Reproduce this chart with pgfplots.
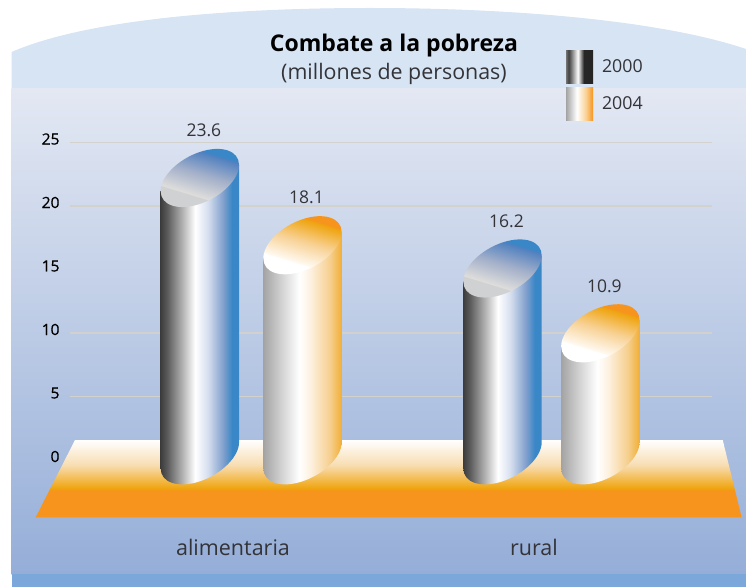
\documentclass[border=0pt]{standalone}
\usepackage{fontspec}
\setmainfont{Open Sans}
\newfontfamily\tickf[FakeBold=0.6]{Open Sans}
\usepackage{pgfplots}
\pgfplotsset{compat=1.18}
\definecolor{domeC}{HTML}{D6E4F3}
\definecolor{bgTop}{HTML}{E3E8F3}
\definecolor{bgBot}{HTML}{95AED8}
\definecolor{strip}{HTML}{7BA7DA}
\definecolor{gridC}{HTML}{D3D1CB}
\definecolor{txt}{HTML}{333338}
\definecolor{blueS}{HTML}{3A87C8}
\definecolor{orgS}{HTML}{F7941D}
\pgfdeclarehorizontalshading{cylA}{100bp}{color(0bp)=(black!76);color(25bp)=(black!76);color(29bp)=(black!65);color(40bp)=(black!26);color(47bp)=(white);
 rgb(55bp)=(0.843,0.875,0.937);rgb(65bp)=(0.5,0.624,0.8);color(70.5bp)=(blueS);color(100bp)=(blueS)}
\pgfdeclarehorizontalshading{cylB}{100bp}{rgb(0bp)=(0.64,0.64,0.64);rgb(25bp)=(0.64,0.64,0.64);rgb(37.5bp)=(0.84,0.84,0.84);color(48bp)=(white);
 rgb(55bp)=(0.992,0.945,0.878);rgb(67.5bp)=(0.965,0.812,0.557);rgb(75bp)=(0.945,0.682,0.208);rgb(100bp)=(0.945,0.682,0.208)}
\pgfdeclareverticalshading{topA}{100bp}{rgb(0bp)=(0.816,0.82,0.827);rgb(40.5bp)=(0.816,0.82,0.827);rgb(40.7bp)=(0.875,0.87,0.86);rgb(52bp)=(0.64,0.69,0.79);rgb(63bp)=(0.31,0.50,0.75);color(63.25bp)=(blueS);color(100bp)=(blueS)}
\pgfdeclareverticalshading{topB}{100bp}{color(0bp)=(white);color(40.5bp)=(white);rgb(40.7bp)=(1,0.98,0.95);rgb(52bp)=(0.97,0.82,0.58);rgb(63bp)=(0.937,0.64,0.05);color(63.25bp)=(orgS);color(100bp)=(orgS)}
\pgfdeclareverticalshading{floorS}{100bp}{color(0bp)=(orgS);color(42.5bp)=(orgS);rgb(43bp)=(0.937,0.635,0.024);rgb(58.8bp)=(0.973,0.867,0.698);color(75bp)=(white);color(100bp)=(white)}
\pgfdeclarehorizontalshading{legA}{100bp}{rgb(0bp)=(0.45,0.45,0.45);rgb(25bp)=(0.45,0.45,0.45);rgb(30bp)=(0.25,0.25,0.25);color(47bp)=(white);rgb(58bp)=(0.15,0.15,0.15);rgb(100bp)=(0.13,0.13,0.13)}
\pgfdeclarehorizontalshading{legB}{100bp}{rgb(0bp)=(0.64,0.64,0.64);rgb(25bp)=(0.64,0.64,0.64);color(45bp)=(white);rgb(62bp)=(0.98,0.82,0.58);color(75bp)=(orgS);color(100bp)=(orgS)}
\newcommand{\cyl}[2]{%
 \pgfmathsetmacro{\Hh}{12.23*\myv-11.3}%
 \begin{scope}[x=1pt,y=1pt,draw=none,fill=none]
 \path[shading=#1,shading angle=0] (-39.2,-13) -- (-39.2,{-\Hh-13})
   .. controls (-39.2,{-\Hh-27.36}) and (-21.65,{-\Hh-33.18}) .. (0,{-\Hh-26})
   .. controls (21.65,{-\Hh-18.82}) and (39.2,{-\Hh-1.36}) .. (39.2,{-\Hh+13})
   -- (39.2,13) -- cycle;
 \begin{scope}
 \clip (39.2,13) .. controls (39.2,27.36) and (21.65,33.18) .. (0,26)
   .. controls (-21.65,18.82) and (-39.2,1.36) .. (-39.2,-13)
   .. controls (-39.2,-27.36) and (-21.65,-33.18) .. (0,-26)
   .. controls (21.65,-18.82) and (39.2,-1.36) .. (39.2,13) -- cycle;
 \path[shading=#2,shading angle=-17] (-50,-50) rectangle (50,50);
 \end{scope}
 \node[text=txt,font=\fontsize{17.5}{20}\selectfont,inner sep=0pt] at (4,47.5) {\myv};
 \end{scope}}
\pgfdeclareplotmark{nil}{}
\begin{document}
\begin{tikzpicture}
\path[use as bounding box] (0,0) rectangle (746pt,587pt);
\begin{scope}[x=1pt,y=-1pt,yshift=587pt]
 \fill[domeC] (11.5,90) -- (11.5,52) .. controls (90,18) and (240,8) .. (370,8)
    .. controls (510,8) and (660,20) .. (746,49) -- (746,90) -- cycle;
 \path[top color=bgTop,bottom color=bgBot] (11.5,89) rectangle (746,574);
 \fill[strip] (11.5,574) rectangle (746,587);
\end{scope}
\begin{axis}[name=gridaxis,at={(70pt,127pt)},anchor=south west,scale only axis,width=642pt,height=317.5pt,
  xmin=0,xmax=1,ymin=0,ymax=25,xtick=\empty,ytick={0,5,10,15,20,25},
  ymajorgrids,grid style={gridC,line width=1.2pt},
  axis line style={draw=none},major tick length=0pt,
  /pgf/number format/assume math mode=true,
  yticklabel style={font=\tickf\fontsize{15.5}{17}\selectfont,text=black,yshift=3.5pt,xshift=-7pt}]
\end{axis}
\begin{scope}[x=1pt,y=-1pt,yshift=587pt]
 \path[shading=floorS] (75,440) -- (722.7,440) -- (741.6,517.3) -- (35.7,517.3) -- cycle;
\end{scope}
\begin{axis}[at={(0,0)},anchor=south west,scale only axis,width=746pt,height=587pt,clip=false,
  xmin=0,xmax=746,ymin=-9.845,ymax=38.152,
  xtick={233,534},xticklabels={alimentaria,rural},ytick=\empty,
  axis line style={draw=none},major tick length=0pt,
  xticklabel style={font=\fontsize{21.5}{24}\selectfont,text=txt,yshift=51pt},
  title={{\fontsize{23}{26}\selectfont\bfseries Combate a la pobreza}\\[6pt]{\fontsize{21.4}{24}\selectfont\color{txt}(millones de personas)}},
  title style={at={(394/746,1)},anchor=north,align=center,yshift=-36pt},
  legend style={at={(566/746,537/587)},anchor=north west,draw=none,fill=none,inner sep=0pt,outer sep=0pt,
    font=\fontsize{17.8}{20}\selectfont,text=txt,cells={anchor=west},row sep=4pt},
  visualization depends on={value \thisrow{y} \as \myv}]
\addplot[scatter,only marks,mark=nil,draw=none,scatter/@post marker code/.code={},scatter/@pre marker code/.code={\cyl{cylA}{topA}},
  legend image code/.code={\path[shading=legA,shading angle=0] (0pt,-16.5pt) rectangle (27pt,16.5pt);\path (34pt,0pt);}]
  table[x=x,y=y] {
  x y
  199.85 23.6
  502.5 16.2
};
\addlegendentry{2000}
\addplot[scatter,only marks,mark=nil,draw=none,scatter/@post marker code/.code={},scatter/@pre marker code/.code={\cyl{cylB}{topB}},
  legend image code/.code={\path[shading=legB,shading angle=0] (0pt,-16.5pt) rectangle (27pt,16.5pt);\path (34pt,0pt);}]
  table[x=x,y=y] {
  x y
  302.5 18.1
  600.35 10.9
};
\addlegendentry{2004}
\end{axis}
\end{tikzpicture}
\end{document}
